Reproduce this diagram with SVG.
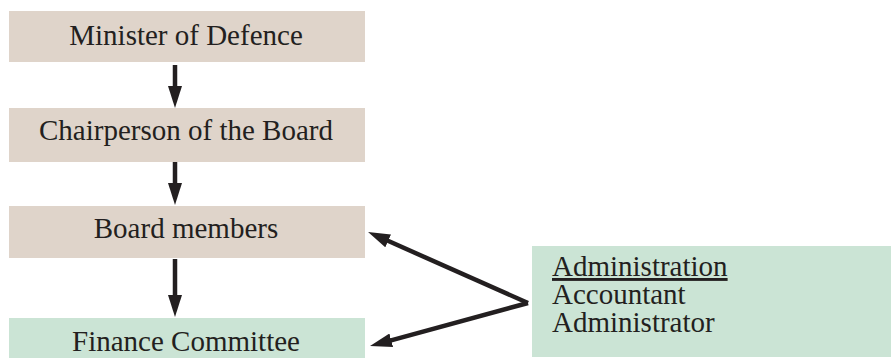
<svg xmlns="http://www.w3.org/2000/svg" width="891" height="358" viewBox="0 0 891 358">
<style>
.beige{fill:#dfd4ca}
.green{fill:#cbe4d5}
.t{font-family:"Liberation Serif","Times New Roman",serif;font-size:29px;fill:#231f20}
.c{text-anchor:middle}
.a{stroke:#231f20;stroke-width:4.5;fill:none}
</style>
<defs>
<marker id="ah" markerUnits="userSpaceOnUse" markerWidth="24" markerHeight="14" viewBox="0 0 24 14" refX="4" refY="7" orient="auto">
<path d="M0,0 L22,7 L0,14 z" fill="#231f20"/>
</marker>
</defs>
<g id="n1"><rect class="beige" x="9" y="11" width="356" height="51"/><text class="t c" x="186" y="45">Minister of Defence</text></g>
<g id="n2"><rect class="beige" x="9" y="108" width="356" height="54"/><text class="t c" x="186" y="140">Chairperson of the Board</text></g>
<g id="n3"><rect class="beige" x="9" y="206" width="356" height="52"/><text class="t c" x="186" y="238">Board members</text></g>
<g id="n4"><rect class="green" x="9" y="318" width="356" height="40"/><text class="t c" x="186" y="351">Finance Committee</text></g>
<g id="n5"><rect class="green" x="532" y="246" width="359" height="111"/>
<text class="t" x="552" y="276" text-decoration="underline">Administration</text>
<text class="t" x="552" y="304">Accountant</text>
<text class="t" x="552" y="332">Administrator</text></g>
<g id="connectors">
<line class="a" x1="175" y1="65" x2="175" y2="90" marker-end="url(#ah)"/>
<line class="a" x1="175" y1="162" x2="175" y2="187" marker-end="url(#ah)"/>
<line class="a" x1="175" y1="259" x2="175" y2="299" marker-end="url(#ah)"/>
<line class="a" x1="528" y1="303" x2="384.5" y2="239.3" marker-end="url(#ah)"/>
<line class="a" x1="528" y1="303" x2="387.4" y2="341.3" marker-end="url(#ah)"/>
</g>
</svg>
